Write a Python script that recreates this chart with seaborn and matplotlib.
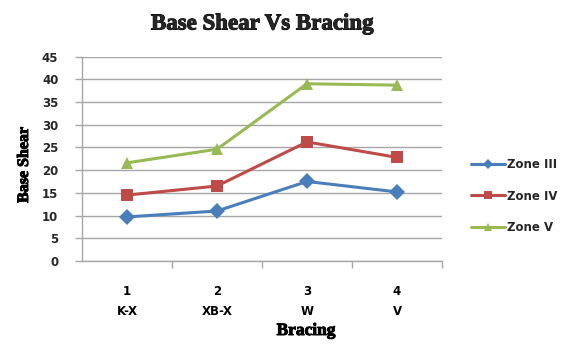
import matplotlib
matplotlib.use("Agg")
import matplotlib.pyplot as plt
import matplotlib.patheffects as pe
import seaborn as sns
import pandas as pd

# Bracing systems (numbered) and base shear per seismic zone
bracing_ids = ["1", "2", "3", "4"]
bracing_names = ["K-X", "XB-X", "W", "V"]
zone_iii = [9.7, 11.0, 17.5, 15.2]
zone_iv = [14.5, 16.5, 26.2, 22.8]
zone_v = [21.6, 24.6, 39.0, 38.7]
zones = ["Zone III", "Zone IV", "Zone V"]

frames = []
for zone, vals in zip(zones, [zone_iii, zone_iv, zone_v]):
    frames.append(pd.DataFrame({"pos": range(len(vals)), "shear": vals, "zone": zone}))
df = pd.concat(frames, ignore_index=True)

sns.set_theme(style="white")
plt.rcParams["font.family"] = ["DejaVu Sans"]

fig = plt.figure(figsize=(5.68, 3.45), dpi=100)
ax = fig.add_axes([82 / 568, 1 - 261 / 345, 360 / 568, (261 - 56.5) / 345])

palette = {"Zone III": "#4A7EBB", "Zone IV": "#BE4B48", "Zone V": "#98B954"}
markers = {"Zone III": "D", "Zone IV": "s", "Zone V": "^"}
sns.lineplot(data=df, x="pos", y="shear", hue="zone", style="zone",
             palette=palette, markers=markers, dashes=False,
             linewidth=2.2, markersize=8, markeredgewidth=0, ax=ax, legend=True)

ax.set_xlim(-0.5, 3.5)
ax.set_ylim(0, 45)
ax.set_yticks(range(0, 46, 5))
ax.yaxis.grid(True, color="#A6A6A6", linewidth=1)
ax.xaxis.grid(False)
for side in ["top", "right"]:
    ax.spines[side].set_visible(False)
for side in ["left", "bottom"]:
    ax.spines[side].set_color("#A6A6A6")
    ax.spines[side].set_linewidth(1)

ax.set_xticks(range(4))
ax.set_xticklabels([f"{i}\n{n}" for i, n in zip(bracing_ids, bracing_names)],
                   fontsize=8.5, fontweight="bold", color="black")
for t in ax.get_xticklabels():
    t.set_linespacing(1.75)
ax.set_xticks([0.5, 1.5, 2.5, 3.5], minor=True)
ax.tick_params(axis="x", which="major", length=0, pad=17)
ax.tick_params(axis="x", which="minor", length=5, width=1, color="#A6A6A6", direction="out", bottom=True)
ax.tick_params(axis="y", length=5, width=1, color="#A6A6A6", direction="out", left=True,
               pad=12, labelsize=8.5)
for t in ax.get_yticklabels():
    t.set_fontweight("bold")

serif = ["Liberation Serif", "DejaVu Serif"]
heavy = [pe.withStroke(linewidth=0.7, foreground="black")]
ax.set_xlabel("Bracing", fontsize=12.5, fontweight="bold", family=serif, color="black",
              path_effects=heavy)
ax.xaxis.set_label_coords(306 / 568, 1 - 331 / 345, transform=fig.transFigure)
ax.xaxis.label.set_verticalalignment("center")
ax.set_ylabel("Base Shear", fontsize=11.5, fontweight="bold", family=serif, color="black",
              path_effects=heavy)
ax.yaxis.set_label_coords(24 / 568, 1 - 165 / 345, transform=fig.transFigure)
ax.yaxis.label.set_verticalalignment("center")

fig.text(262 / 568, 1 - 24 / 345, "Base Shear Vs Bracing", ha="center", va="center",
         fontsize=16.5, fontweight="bold", family=serif, path_effects=heavy)

handles, labels = ax.get_legend_handles_labels()
ax.legend_.remove()
leg = fig.legend(handles, labels, loc="center left", bbox_to_anchor=(460 / 568, 1 - 196 / 345),
                 frameon=False, fontsize=8.5, handlelength=2.9, labelspacing=1.55,
                 handletextpad=0.15, markerscale=0.7)
for t in leg.get_texts():
    t.set_fontweight("bold")

fig.savefig("out.png", dpi=100)
